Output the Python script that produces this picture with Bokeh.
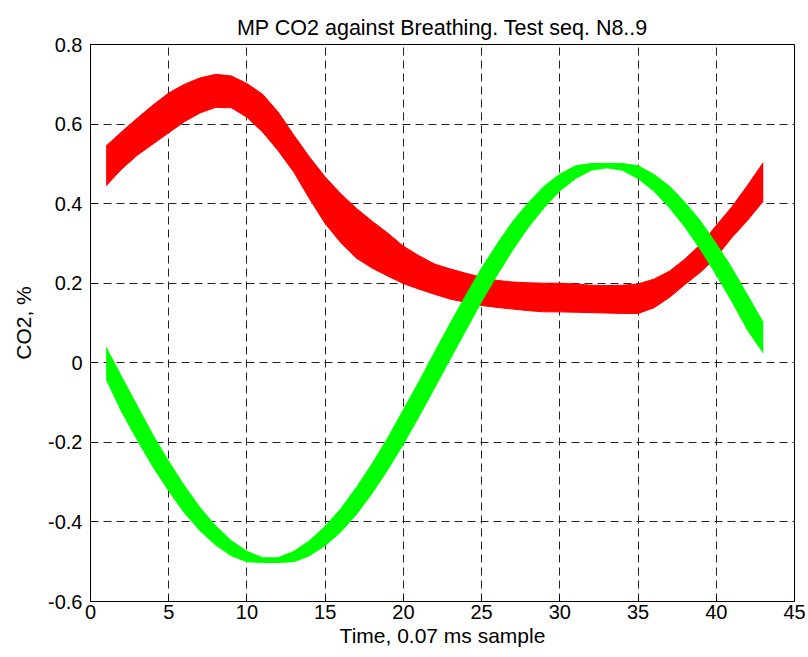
from bokeh.plotting import figure
from bokeh.models import FixedTicker, ColumnDataSource
from bokeh.embed import file_html
from bokeh.resources import INLINE

# sample index (x axis)
samples = list(range(1, 44))

# red band (MP CO2): upper and lower envelope of the bundle of traces
red_upper = [0.545, 0.581, 0.615, 0.648, 0.678, 0.700, 0.716, 0.725, 0.721, 0.702,
             0.675, 0.630, 0.572, 0.517, 0.467, 0.425, 0.388, 0.356, 0.326, 0.293,
             0.269, 0.248, 0.236, 0.225, 0.215, 0.207, 0.203, 0.201, 0.200, 0.200,
             0.198, 0.195, 0.194, 0.195, 0.198, 0.210, 0.230, 0.261, 0.298, 0.345,
             0.392, 0.446, 0.503]
red_lower = [0.445, 0.487, 0.522, 0.550, 0.578, 0.606, 0.628, 0.642, 0.641, 0.617,
             0.580, 0.533, 0.479, 0.412, 0.350, 0.302, 0.263, 0.238, 0.218, 0.199,
             0.185, 0.172, 0.160, 0.152, 0.144, 0.139, 0.135, 0.131, 0.128, 0.128,
             0.127, 0.126, 0.125, 0.124, 0.124, 0.138, 0.164, 0.197, 0.228, 0.266,
             0.315, 0.358, 0.406]

# green band (breathing): upper and lower envelope of the bundle of traces
green_upper = [0.039, -0.036, -0.109, -0.182, -0.248, -0.309, -0.364, -0.410, -0.447, -0.474,
               -0.490, -0.490, -0.474, -0.447, -0.411, -0.367, -0.313, -0.254, -0.189, -0.118,
               -0.047, 0.027, 0.100, 0.170, 0.238, 0.299, 0.356, 0.403, 0.444, 0.474,
               0.495, 0.501, 0.501, 0.501, 0.495, 0.474, 0.444, 0.403, 0.356, 0.299,
               0.238, 0.170, 0.101]
green_lower = [-0.041, -0.124, -0.195, -0.262, -0.322, -0.377, -0.422, -0.458, -0.485, -0.500,
               -0.502, -0.502, -0.500, -0.485, -0.459, -0.425, -0.381, -0.328, -0.269, -0.204,
               -0.135, -0.063, 0.010, 0.082, 0.154, 0.221, 0.284, 0.341, 0.390, 0.432,
               0.463, 0.484, 0.490, 0.484, 0.463, 0.432, 0.390, 0.341, 0.284, 0.221,
               0.154, 0.082, 0.025]

x_ticks = [0, 5, 10, 15, 20, 25, 30, 35, 40, 45]
x_tick_labels = ["0", "5", "10", "15", "20", "25", "30", "35", "40", "45"]
y_ticks = [-0.6, -0.4, -0.2, 0, 0.2, 0.4, 0.6, 0.8]
y_tick_labels = ["-0.6", "-0.4", "-0.2", "0", "0.2", "0.4", "0.6", "0.8"]

FONT = "Liberation Sans"

src = ColumnDataSource(dict(x=samples, ru=red_upper, rl=red_lower, gu=green_upper, gl=green_lower))

p = figure(width=808, height=657, x_range=(0, 45), y_range=(-0.6, 0.8),
           output_backend="svg", toolbar_location=None,
           min_border_left=90, min_border_right=14, min_border_top=44, min_border_bottom=56,
           title="MP CO2 against Breathing. Test seq. N8..9")

p.background_fill_color = "white"
p.border_fill_color = "white"
p.outline_line_color = "black"
p.outline_line_width = 1

p.title.align = "center"
p.title.text_font = FONT
p.title.text_font_size = "21.5px"
p.title.text_font_style = "normal"
p.title.text_color = "black"

# bands
p.varea(x="x", y1="rl", y2="ru", source=src, fill_color="#ff0000")
p.line(x="x", y="ru", source=src, line_color="#ff0000", line_width=1)
p.line(x="x", y="rl", source=src, line_color="#ff0000", line_width=1)
p.varea(x="x", y1="gl", y2="gu", source=src, fill_color="#00ff00")
p.line(x="x", y="gu", source=src, line_color="#00ff00", line_width=1)
p.line(x="x", y="gl", source=src, line_color="#00ff00", line_width=1)

# axes
p.xaxis.ticker = FixedTicker(ticks=x_ticks)
p.yaxis.ticker = FixedTicker(ticks=y_ticks)
p.xaxis.major_label_overrides = dict(zip(x_ticks, x_tick_labels))
p.yaxis.major_label_overrides = dict(zip(y_ticks, y_tick_labels))
p.xaxis.axis_label = "Time, 0.07 ms sample"
p.yaxis.axis_label = "CO2, %"
for ax in (p.xaxis, p.yaxis):
    ax.major_tick_in = 5
    ax.major_tick_out = 0
    ax.minor_tick_in = 0
    ax.minor_tick_out = 0
    ax.axis_line_color = "black"
    ax.major_tick_line_color = "black"
    ax.major_label_text_font = FONT
    ax.major_label_text_font_size = "20px"
    ax.major_label_text_color = "black"
    ax.axis_label_text_font = FONT
    ax.axis_label_text_font_size = "21px"
    ax.axis_label_text_font_style = "normal"
    ax.axis_label_text_color = "black"
p.xaxis.major_label_standoff = 3
p.yaxis.major_label_standoff = 8
p.xaxis.axis_label_standoff = 2
p.yaxis.axis_label_standoff = 10

for g in (p.xgrid, p.ygrid):
    g.grid_line_color = "#222222"
    g.grid_line_dash = "8 5"
    g.grid_line_width = 1

open("out.html", "w").write(file_html(p, INLINE))
